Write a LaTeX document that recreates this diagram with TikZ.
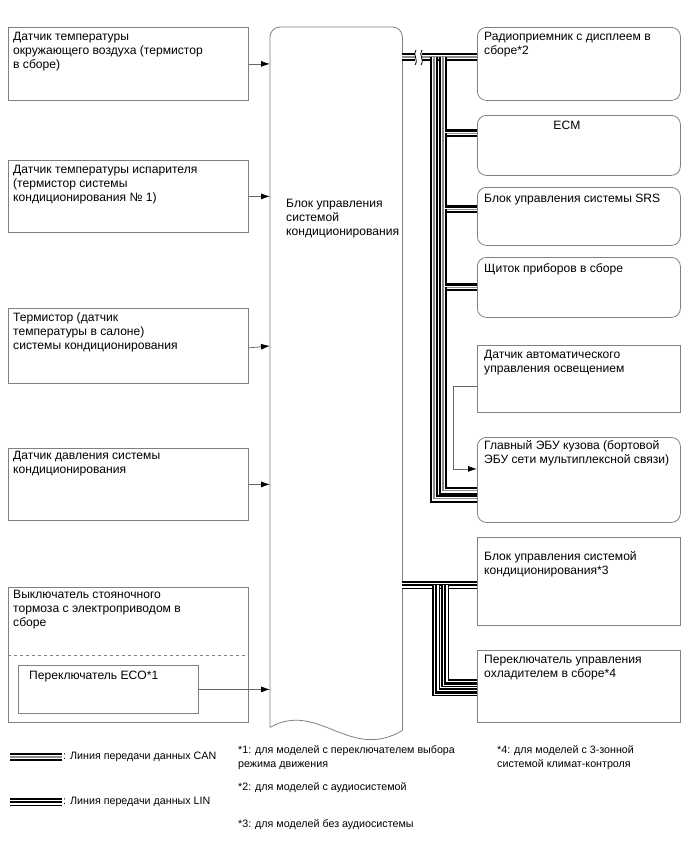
\documentclass[tikz,border=0pt]{standalone}
\usepackage{fontspec}
\setmainfont{Liberation Sans}
\usetikzlibrary{arrows.meta,calc}

\begin{document}
\begin{tikzpicture}[
    x=1pt, y=-1pt,
    font=\fontsize{12.1}{14}\selectfont,
    sbox/.style={draw=black!50, line width=0.8pt, anchor=north west, inner sep=0pt, minimum width=240},
    rbox/.style={draw=black!50, line width=0.8pt, anchor=north west, inner sep=0pt, minimum width=203, rounded corners=9pt},
    qbox/.style={rbox, sharp corners},
    txt/.style={anchor=north west, inner sep=0pt, align=left},
    note/.style={txt, font=\fontsize{10.7}{14}\selectfont},
    link/.style={draw=black!60, line width=0.8pt, -{Latex[color=black, length=9pt, width=6pt]}},
    can/.style={draw=black, line width=8pt, postaction={draw=white, line width=3.8pt}, postaction={draw=black!45, line width=1.1pt}},
    lin/.style={draw=black, line width=8pt, postaction={draw=white, line width=5pt}, postaction={draw=black, line width=2.8pt}}
]
\useasboundingbox (0,0) rectangle (688,852);

% ---- Sensors on the left ----
\node[sbox, minimum height=73] (ambient) at (8,27) {};
\node[txt] (ambientT) at ([shift={(5,5)}]ambient.north west) {Датчик температуры\\окружающего воздуха (термистор\\в сборе)};
\node[sbox, minimum height=72] (evap) at (8,160) {};
\node[txt] (evapT) at ([shift={(5,5)}]evap.north west) {Датчик температуры испарителя\\(термистор системы\\кондиционирования № 1)};
\node[sbox, minimum height=75] (cabin) at (8,308) {};
\node[txt] (cabinT) at ([shift={(5,5)}]cabin.north west) {Термистор (датчик\\температуры в салоне)\\системы кондиционирования};
\node[sbox, minimum height=72] (press) at (8,448) {};
\node[txt] (pressT) at ([shift={(5,3)}]press.north west) {Датчик давления системы\\кондиционирования};
\node[sbox, minimum height=135] (parkbrake) at (8,587) {};
\node[txt] (parkbrakeT) at ([shift={(5,3)}]parkbrake.north west) {Выключатель стояночного\\тормоза с электроприводом в\\сборе};
\draw[dashed, draw=black!50, line width=0.8pt] (parkbrake.west |- 0,655) -- (parkbrake.east |- 0,655);
\node[sbox, minimum width=180, minimum height=48] (eco) at (18,665) {};
\node[txt] (ecoT) at ([shift={(11,6)}]eco.north west) {Переключатель ECO*1};

% ---- A/C amplifier ----
\node[anchor=north west, inner sep=0pt, minimum width=132, minimum height=700] (acu) at (270,27) {};
\draw[draw=black!50, line width=0.8pt, rounded corners=10pt] (acu.south west) -- (acu.north west) -- (acu.north east) -- ([yshift=-3]acu.south east);
\draw[draw=black!50, line width=0.8pt] (acu.south west) .. controls (318,700) and (350,762) .. ([yshift=-3]acu.south east);
\node[txt] (acuT) at (286,199) {Блок управления\\системой\\кондиционирования};

% ---- Units on the right ----
\node[rbox, minimum height=73] (radio) at (477,27) {};
\node[txt] (radioT) at ([shift={(7,5)}]radio.north west) {Радиоприемник с дисплеем в\\сборе*2};
\node[rbox, minimum height=60] (ecm) at (477,115) {};
\node[anchor=north, inner sep=0pt] (ecmT) at ([shift={(-12,6)}]ecm.north) {ECM};
\node[rbox, minimum height=58] (srs) at (477,187) {};
\node[txt] (srsT) at ([shift={(7,7)}]srs.north west) {Блок управления системы SRS};
\node[rbox, minimum height=60] (instr) at (477,257) {};
\node[txt] (instrT) at ([shift={(7,6)}]instr.north west) {Щиток приборов в сборе};
\node[qbox, minimum height=67] (light) at (477,345) {};
\node[txt] (lightT) at ([shift={(7,5)}]light.north west) {Датчик автоматического\\управления освещением};
\node[rbox, minimum height=85] (bodyecu) at (477,437) {};
\node[txt] (bodyecuT) at ([shift={(7,3)}]bodyecu.north west) {Главный ЭБУ кузова (бортовой\\ЭБУ сети мультиплексной связи)};
\node[qbox, minimum height=88] (acbox) at (477,537) {};
\node[txt] (acboxT) at ([shift={(7,14)}]acbox.north west) {Блок управления системой\\кондиционирования*3};
\node[qbox, minimum height=72] (cooler) at (477,650) {};
\node[txt] (coolerT) at ([shift={(7,5)}]cooler.north west) {Переключатель управления\\охладителем в сборе*4};

% ---- Inputs to the amplifier ----
\draw[link] (ambient.east) -- (acu.west |- ambient.east);
\draw[link] (evap.east) -- (acu.west |- evap.east);
\draw[link] ([yshift=-2]cabin.east) -- (acu.west |- cabin.east);
\draw[link] (press.east) -- (acu.west |- press.east);
\draw[link] (eco.east) -- (acu.west |- eco.east);
\draw[link] ([yshift=-7]light.west) -- ++(-24,0) |- ([yshift=11]bodyecu.west);

% ---- CAN bus ----
\coordinate (canout) at (402,57);
\coordinate (trunkA) at (443,57);
\coordinate (trunkB) at (434,57);
\draw[can] (canout) -- (radio.west |- canout);
\draw[can] (trunkB) |- ([yshift=-19]bodyecu.west);
\draw[can] (trunkA) |- ([yshift=12]ecm.west);
\draw[can] ([yshift=12]ecm.west -| trunkA) |- ([yshift=7]srs.west);
\draw[can] ([yshift=7]srs.west -| trunkA) |- (instr.west);
\draw[can] (instr.west -| trunkA) |- ([yshift=-11]bodyecu.west);
\fill[white] (415,51) rectangle (422,64);
\draw[line width=0.8pt] (416,50) .. controls (412,55) and (419,59) .. (415,65);
\draw[line width=0.8pt] (422,50) .. controls (418,55) and (425,59) .. (421,65);

% ---- LIN bus ----
\coordinate (linout) at (402,585);
\coordinate (trunkC) at (436,585);
\coordinate (trunkD) at (445,585);
\draw[lin] (linout) -- (acbox.west |- linout);
\draw[lin] (trunkC) |- ([yshift=-6]cooler.west);
\draw[lin] (trunkD) |- ([yshift=3]cooler.west);

% ---- Legend ----
\coordinate (canA) at (10,757);
\coordinate (canB) at (62,757);
\draw[can] (canA) -- (canB);
\node[note, anchor=west] (canL) at (63,757) {: Линия передачи данных CAN};
\coordinate (linA) at (10,802);
\coordinate (linB) at (62,802);
\draw[lin] (linA) -- (linB);
\node[note, anchor=west] (linL) at (63,802) {: Линия передачи данных LIN};

% ---- Notes ----
\node[note] (note1) at (238,745) {*1: для моделей с переключателем выбора\\режима движения};
\node[note] (note2) at (238,782) {*2: для моделей с аудиосистемой};
\node[note] (note3) at (238,819) {*3: для моделей без аудиосистемы};
\node[note] (note4) at (497,745) {*4: для моделей с 3-зонной\\системой климат-контроля};

\end{tikzpicture}
\end{document}
